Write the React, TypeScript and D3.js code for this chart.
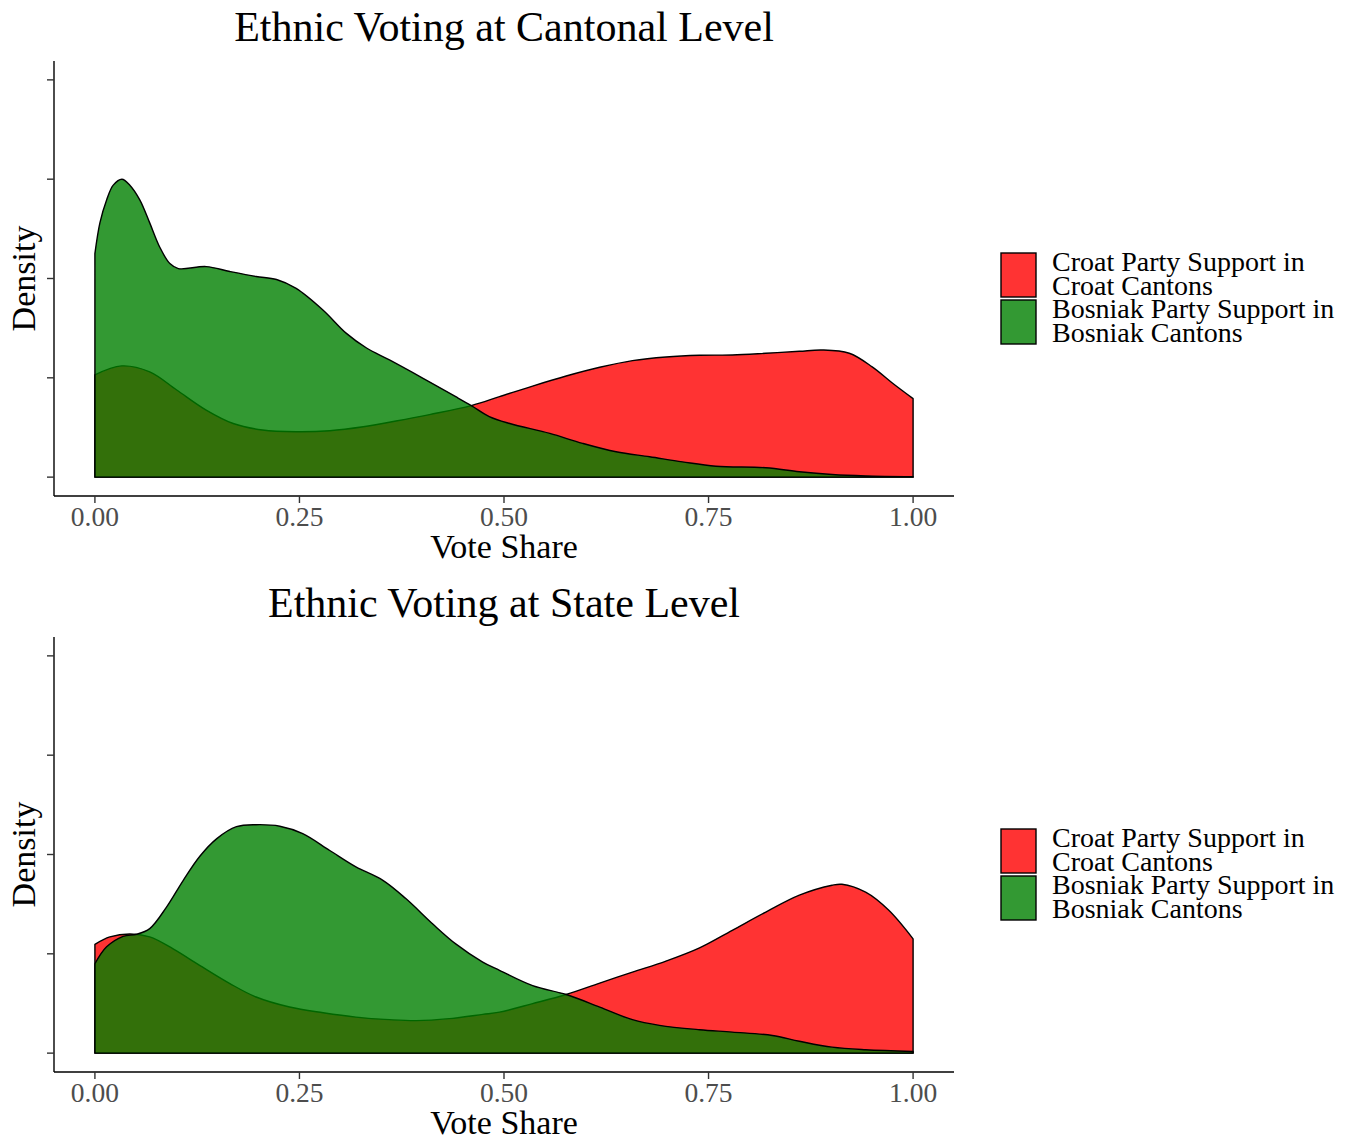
import React from 'react';
import * as d3 from 'd3';

type Pt = [number, number];

// Titles, labels and tick values
const panelTitles = ['Ethnic Voting at Cantonal Level', 'Ethnic Voting at State Level'];
const legendLines = [
  ['Croat Party Support in', 'Croat Cantons'],
  ['Bosniak Party Support in', 'Bosniak Cantons'],
];
const xTicks = [0, 0.25, 0.5, 0.75, 1];
const yTicks = [0, 1, 2, 3, 4];
const xLabel = 'Vote Share';
const yLabel = 'Density';
const fills = ['rgba(255,0,0,0.8)', 'rgba(0,128,0,0.8)'];

// Density estimates: [vote share, density]
const cantonalCroat: Pt[] = [
  [0, 1.03], [0.0326, 1.12], [0.067, 1.06], [0.1, 0.877], [0.136, 0.675], [0.169, 0.54],
  [0.205, 0.474], [0.246, 0.457], [0.287, 0.467], [0.328, 0.507], [0.368, 0.565], [0.409, 0.63],
  [0.46, 0.72], [0.4945, 0.81], [0.535, 0.917], [0.576, 1.018], [0.617, 1.106], [0.657, 1.173],
  [0.698, 1.21], [0.739, 1.227], [0.779, 1.23], [0.82, 1.247], [0.861, 1.267], [0.889, 1.28],
  [0.922, 1.247], [0.95, 1.11], [0.975, 0.945], [1.0, 0.79],
];
const cantonalBosniak: Pt[] = [
  [0, 2.25], [0.0061, 2.56], [0.0143, 2.79], [0.0224, 2.94], [0.033, 3.0], [0.0427, 2.94],
  [0.055, 2.79], [0.067, 2.56], [0.079, 2.32], [0.0916, 2.15], [0.102, 2.1], [0.136, 2.12],
  [0.165, 2.07], [0.197, 2.02], [0.222, 1.99], [0.246, 1.9], [0.279, 1.68], [0.307, 1.45],
  [0.332, 1.3], [0.36, 1.18], [0.4, 1.0], [0.441, 0.81], [0.46, 0.72], [0.482, 0.61],
  [0.507, 0.54], [0.556, 0.44], [0.596, 0.34], [0.637, 0.255], [0.678, 0.205], [0.718, 0.154],
  [0.759, 0.11], [0.82, 0.094], [0.861, 0.054], [0.901, 0.027], [0.942, 0.013], [1.0, 0.005],
];
const stateCroat: Pt[] = [
  [0, 1.096], [0.0183, 1.17], [0.0427, 1.2], [0.067, 1.17], [0.0956, 1.05], [0.128, 0.884],
  [0.165, 0.7], [0.197, 0.565], [0.238, 0.464], [0.279, 0.407], [0.319, 0.363], [0.36, 0.337],
  [0.393, 0.327], [0.433, 0.347], [0.474, 0.39], [0.4945, 0.413], [0.535, 0.498], [0.576, 0.59],
  [0.617, 0.705], [0.657, 0.816], [0.698, 0.927], [0.739, 1.06], [0.779, 1.237], [0.82, 1.42],
  [0.861, 1.59], [0.901, 1.69], [0.913, 1.7], [0.942, 1.62], [0.97, 1.44], [1.0, 1.15],
];
const stateBosniak: Pt[] = [
  [0, 0.9], [0.0143, 1.07], [0.0345, 1.176], [0.051, 1.197], [0.067, 1.254], [0.0875, 1.47],
  [0.108, 1.74], [0.128, 1.98], [0.149, 2.16], [0.173, 2.28], [0.197, 2.3], [0.226, 2.285],
  [0.254, 2.21], [0.287, 2.04], [0.319, 1.875], [0.352, 1.74], [0.38, 1.556], [0.413, 1.3],
  [0.441, 1.1], [0.474, 0.917], [0.4945, 0.834], [0.535, 0.68], [0.576, 0.59], [0.617, 0.464],
  [0.657, 0.337], [0.69, 0.28], [0.739, 0.236], [0.779, 0.212], [0.828, 0.178], [0.861, 0.12],
  [0.901, 0.06], [0.942, 0.034], [1.0, 0.017],
];

const panelSeries: Pt[][][] = [
  [cantonalCroat, cantonalBosniak],
  [stateCroat, stateBosniak],
];

const FONT = '"Liberation Serif", "Times New Roman", serif';
const W = 1353;
const H = 1140;
const PANEL_OFFSET = 576;
const LEFT = 54;
const RIGHT = 954;
const TOP = 61;
const BOTTOM = 496;

function Panel({ idx }: { idx: number }) {
  const t = idx * PANEL_OFFSET;
  const x = d3.scaleLinear().domain([-0.05, 1.05]).range([LEFT, RIGHT]);
  const y = d3.scaleLinear().domain([-0.19, 4.19]).range([t + BOTTOM, t + TOP]);
  const area = d3
    .area<Pt>()
    .x((d) => x(d[0]))
    .y0(y(0))
    .y1((d) => y(d[1]))
    .curve(d3.curveCatmullRom.alpha(0.5));
  const cx = (LEFT + RIGHT) / 2;

  return (
    <g>
      <text x={cx} y={t + 41} textAnchor="middle" fontFamily={FONT} fontSize={42} fill="#000">
        {panelTitles[idx]}
      </text>

      {panelSeries[idx].map((s, i) => (
        <path key={i} d={area(s) || ''} fill={fills[i]} stroke="#000" strokeWidth={1.4} strokeLinejoin="round" />
      ))}

      {/* axes */}
      <line x1={LEFT} x2={LEFT} y1={t + TOP} y2={t + BOTTOM} stroke="#000" strokeWidth={1.4} />
      <line x1={LEFT} x2={RIGHT} y1={t + BOTTOM} y2={t + BOTTOM} stroke="#000" strokeWidth={1.4} />
      {yTicks.map((v) => (
        <line key={v} x1={LEFT - 7} x2={LEFT} y1={y(v)} y2={y(v)} stroke="#333" strokeWidth={1.4} />
      ))}
      {xTicks.map((v) => (
        <g key={v}>
          <line x1={x(v)} x2={x(v)} y1={t + BOTTOM} y2={t + BOTTOM + 7} stroke="#333" strokeWidth={1.4} />
          <text x={x(v)} y={t + 526} textAnchor="middle" fontFamily={FONT} fontSize={27.5} fill="#4D4D4D">
            {d3.format('.2f')(v)}
          </text>
        </g>
      ))}
      <text x={cx} y={t + 558} textAnchor="middle" fontFamily={FONT} fontSize={34} fill="#000">
        {xLabel}
      </text>
      <text
        transform={`translate(35,${t + (TOP + BOTTOM) / 2}) rotate(-90)`}
        textAnchor="middle"
        fontFamily={FONT}
        fontSize={34}
        fill="#000"
      >
        {yLabel}
      </text>

      {/* legend */}
      {legendLines.map((lines, i) => (
        <g key={i}>
          <rect x={1001} y={t + 253 + i * 47} width={35} height={44} fill={fills[i]} stroke="#000" strokeWidth={1.4} />
          {lines.map((ln, j) => (
            <text key={j} x={1052} y={t + 271 + i * 47 + j * 24} fontFamily={FONT} fontSize={28} fill="#000">
              {ln}
            </text>
          ))}
        </g>
      ))}
    </g>
  );
}

export default function App() {
  return (
    <svg
      width={W}
      height={H}
      viewBox={`0 0 ${W} ${H}`}
      style={{ position: 'absolute', left: 0, top: 0, background: '#fff' }}
    >
      <rect width={W} height={H} fill="#fff" />
      {panelTitles.map((_, i) => (
        <Panel key={i} idx={i} />
      ))}
    </svg>
  );
}
